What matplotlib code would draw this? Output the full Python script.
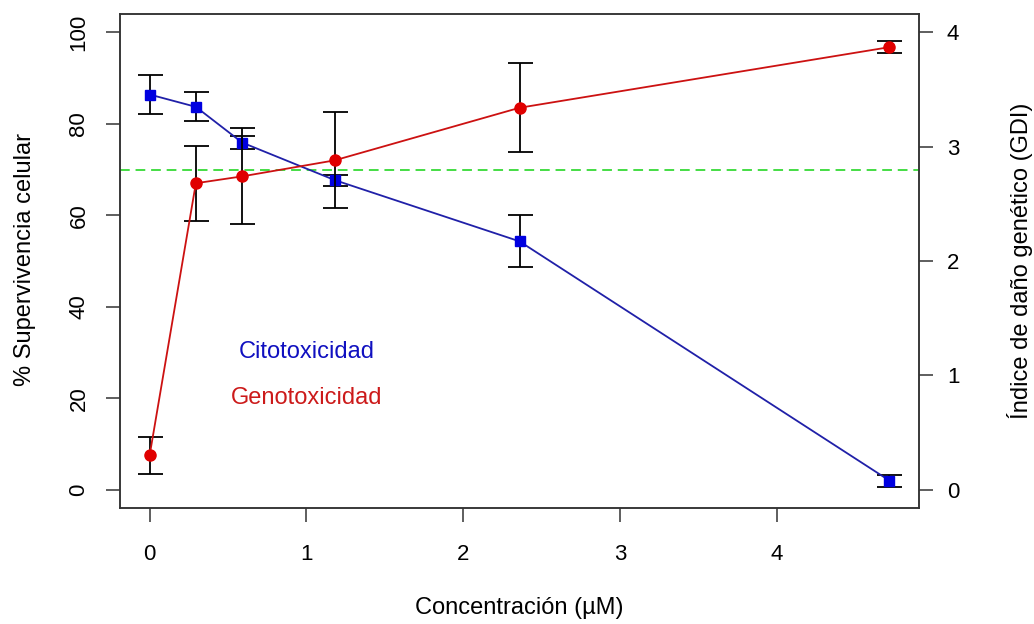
import matplotlib
matplotlib.use("Agg")
import matplotlib.pyplot as plt

# Concentration (uM)
conc = [0, 0.295, 0.59, 1.18, 2.36, 4.72]

# Citotoxicidad: % supervivencia celular (left axis)
survival = [86.4, 83.7, 75.9, 67.7, 54.3, 2.0]
survival_err = [4.3, 3.2, 1.5, 1.2, 5.7, 1.3]

# Genotoxicidad: GDI (right axis)
gdi = [0.30, 2.68, 2.74, 2.88, 3.34, 3.87]
gdi_err = [0.16, 0.33, 0.42, 0.42, 0.39, 0.05]

threshold = 70

left_ticks = [0, 20, 40, 60, 80, 100]
right_ticks = [0, 1, 2, 3, 4]
x_ticks = [0, 1, 2, 3, 4]

plt.rcParams["font.family"] = ["Liberation Sans", "DejaVu Sans"]
FS = 16
LFS = 17

fig = plt.figure(figsize=(10.34, 6.24), dpi=100)
ax = fig.add_axes([120 / 1034, 1 - 508 / 624, 799 / 1034, 494 / 624])
ax2 = ax.twinx()

ax.set_xlim(-0.189, 4.909)
ax.set_ylim(-4, 104)
ax2.set_ylim(-0.16, 4.16)

# threshold line
ax.axhline(threshold, color="#44dd44", lw=1.4, ls=(0, (5, 3)), zorder=1)

# cytotoxicity
ax.errorbar(conc, survival, yerr=survival_err, fmt="none", ecolor="black",
            elinewidth=1.3, capsize=9, capthick=1.3, zorder=2)
ax.plot(conc, survival, color="#2020a8", lw=1.3, marker="s", ms=7.5,
        mfc="#0000e0", mec="#0000e0", zorder=3)

# genotoxicity
ax2.errorbar(conc, gdi, yerr=gdi_err, fmt="none", ecolor="black",
             elinewidth=1.3, capsize=9, capthick=1.3, zorder=2)
ax2.plot(conc, gdi, color="#cc1111", lw=1.3, marker="o", ms=8,
         mfc="#e00000", mec="#e00000", zorder=3)

ax.text(1, 30, "Citotoxicidad", color="#1010c0", fontsize=LFS, ha="center", va="center")
ax.text(1, 20, "Genotoxicidad", color="#cc1a1a", fontsize=LFS, ha="center", va="center")

for a in (ax, ax2):
    for s in a.spines.values():
        s.set_color("#333333")
        s.set_linewidth(1.1)

ax.set_xticks(x_ticks)
ax.set_yticks(left_ticks)
ax2.set_yticks(right_ticks)
ax.tick_params(axis="x", length=10, width=1.1, color="#333333", pad=16, labelsize=FS)
ax.tick_params(axis="y", length=10, width=1.1, color="#333333", pad=12, labelsize=FS,
               labelrotation=90)
for lab in ax.get_yticklabels():
    lab.set_va("center")
ax2.tick_params(axis="y", length=10, width=1.1, color="#333333", pad=10, labelsize=FS)

fig.text(25 / 1034, 1 - 259 / 624, "% Supervivencia celular", rotation=90,
         ha="center", va="center", fontsize=LFS)
fig.text(1020 / 1034, 1 - 261 / 624, "Índice de daño genético (GDI)", rotation=90,
         ha="center", va="center", fontsize=LFS)
fig.text(519 / 1034, 1 - 608 / 624, "Concentración (µM)", ha="center", va="center",
         fontsize=LFS)

fig.savefig("out.png", dpi=100)
